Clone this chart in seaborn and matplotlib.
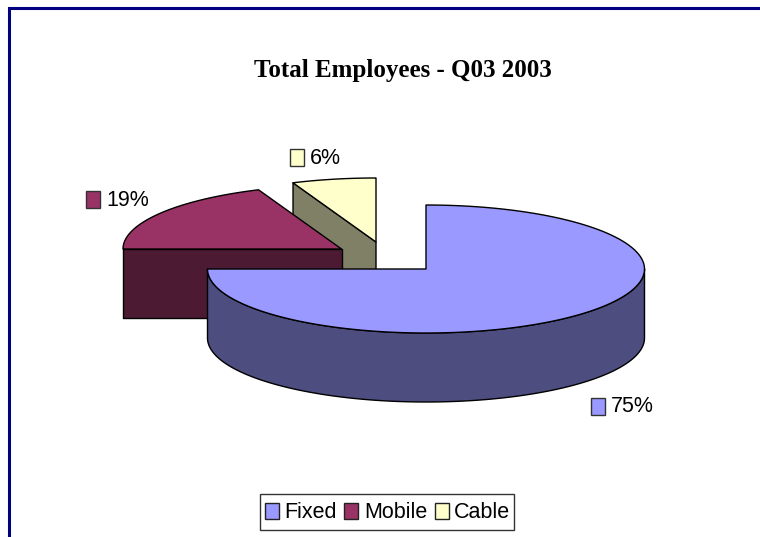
import numpy as np
import matplotlib
matplotlib.use('Agg')
import matplotlib.pyplot as plt
from matplotlib.patches import Polygon, Rectangle
import seaborn as sns

# chart data, labels show them rounded
categories = ['Fixed', 'Mobile', 'Cable']
shares = [75.0, 18.8, 6.2]
top_colors = ['#9999FF', '#993366', '#FFFFCC']
title = 'Total Employees - Q03 2003'

# layout, in pixels of the 760x537 picture
centers = [(426, 269), (341.5, 249), (376, 242)]
rx, ry, depth = 218.5, 64, 69
label_pos = [(591, 398), (86, 191), (290, 149)]

sns.set_style('white')
plt.rcParams['font.family'] = ['Liberation Sans', 'DejaVu Sans']

palette = sns.color_palette(top_colors)
side_colors = [tuple(c * 0.5 for c in col) for col in palette]

fig, ax = plt.subplots(figsize=(7.6, 5.37), dpi=100)
ax.set_position([0, 0, 1, 1])
ax.set_xlim(0, 760)
ax.set_ylim(537, 0)
ax.axis('off')

# frame on the top and left only
ax.plot([8.5, 8.5, 760], [537, 7.5, 7.5], color='#000080', lw=2.2,
        solid_joinstyle='miter', solid_capstyle='butt')


def arc(center, a0, a1):
    # a0, a1 are clockwise degrees from 12 o'clock
    t = np.radians(np.linspace(a0, a1, 200))
    return np.column_stack([center[0] + rx * np.sin(t),
                            center[1] - ry * np.cos(t)])


# clockwise from 12 o'clock, slices follow each other
ends = np.cumsum(shares) / np.sum(shares) * 360
starts = np.r_[0, ends[:-1]]
edge = dict(edgecolor='black', linewidth=1.0, joinstyle='round')

# far slices first, the big one last
for i in [2, 1, 0]:
    c = centers[i]
    a0, a1 = starts[i], ends[i]
    if i == 0:
        # outer wall, only the part facing the viewer
        rim = arc(c, 90, a1)
        wall = np.vstack([rim, rim[::-1] + [0, depth]])
        ax.add_patch(Polygon(wall, closed=True, facecolor=side_colors[i], **edge))
    else:
        # cut face at the start of the slice
        p = arc(c, a0, a0)[0]
        face = [p, c, (c[0], c[1] + depth), (p[0], p[1] + depth)]
        ax.add_patch(Polygon(face, closed=True, facecolor=side_colors[i], **edge))
    top = np.vstack([[c], arc(c, a0, a1)])
    ax.add_patch(Polygon(top, closed=True, facecolor=palette[i], **edge))

# percent labels with small colour keys
for i, (x, y) in enumerate(label_pos):
    ax.add_patch(Rectangle((x, y), 14, 16.5, facecolor=palette[i],
                           edgecolor='#333333', linewidth=1.0))
    ax.text(x + 20, y + 9, f'{shares[i]:.0f}%', fontsize=15.5, va='center', ha='left',
            color='black')

ax.text(402.5, 71, title, family='Liberation Serif', fontweight='bold', fontsize=18,
        ha='center', va='center', color='black')

# legend box drawn on its own so its size can be set exactly
ax.add_patch(Rectangle((260, 494), 254, 36, facecolor='white', edgecolor='#333333',
                       linewidth=1.0))
handles = [Rectangle((0, 0), 1, 1, facecolor=col, edgecolor='#222222', linewidth=1.0)
           for col in palette]
leg = ax.legend(handles, categories, ncol=3, loc='center',
                bbox_to_anchor=(387.5, 513), bbox_transform=ax.transData,
                fontsize=15.5, frameon=False, labelcolor='black',
                handlelength=0.65, handleheight=0.75, handletextpad=0.25,
                columnspacing=0.36, borderpad=0, borderaxespad=0)

fig.savefig('out.png', dpi=100)
